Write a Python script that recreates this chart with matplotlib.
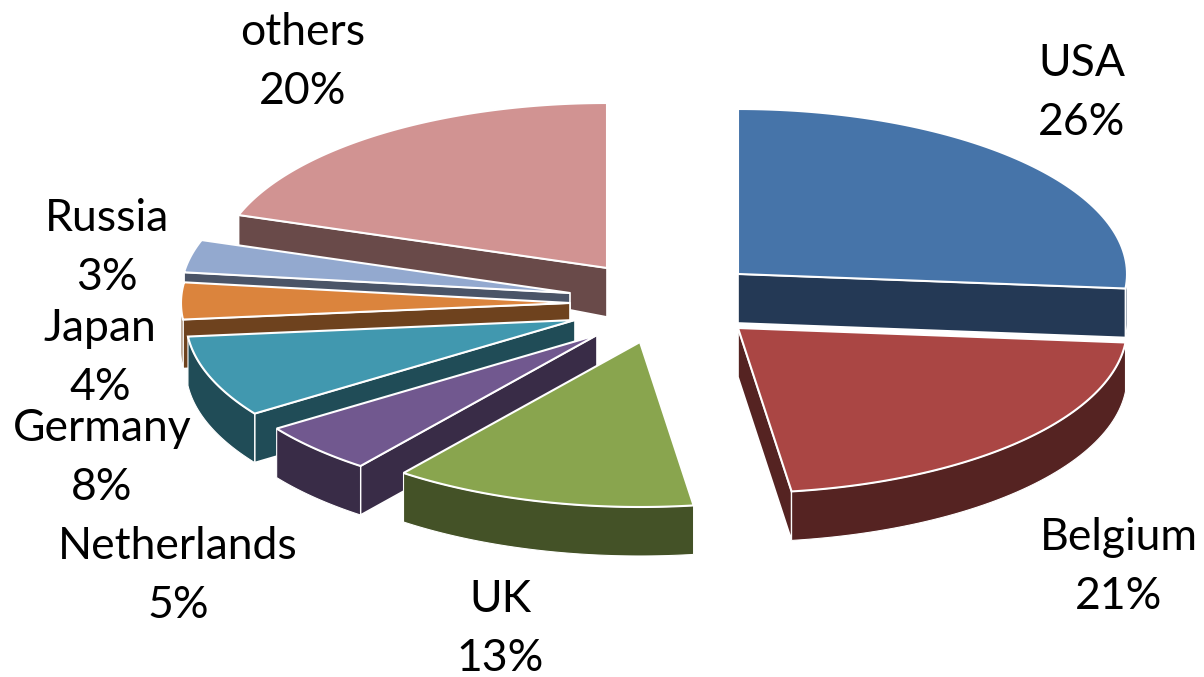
import numpy as np
import matplotlib
matplotlib.use("Agg")
import matplotlib.pyplot as plt
from matplotlib.patches import Polygon

plt.rcParams["font.family"] = ["Lato", "DejaVu Sans"]

# shares in percent, clockwise from 12 o'clock
categories = ["USA", "Belgium", "UK", "Netherlands", "Germany", "Japan", "Russia", "others"]
shares = [26.4, 21.4, 12.6, 5.0, 8.0, 3.6, 3.2, 19.8]

top_colors = ["#4674A9", "#AA4644", "#89A54E", "#71588F", "#4198AF", "#DB843D", "#93A9CF", "#D19392"]
side_colors = ["#243955", "#552322", "#445227", "#392C47", "#204C57", "#6E421E", "#4A5467", "#694A49"]

# where each exploded slice has its tip, in pixels
tips = [(738, 274), (738, 328), (640, 342), (597, 335), (575, 320), (570, 303), (570, 293), (607, 268)]
label_pos = [(1082, 93), (1119, 567), (500, 629), (178, 576), (102, 458), (100, 358), (107, 248), (303, 62)]
draw_order = [7, 6, 5, 4, 3, 2, 0, 1]

RX, RY = 389, 165


def rim(tip, angle):
    a = np.radians(angle)
    return tip[0] + RX * np.sin(a), tip[1] - RY * np.cos(a)


def depth(y):
    # far side of the pie looks thinner
    return np.clip(31 + (np.asarray(y) - 216) * 0.37, 31, 49)


def flat_wall(tip, angle, color):
    x, y = rim(tip, angle)
    wall = [tip, (x, y), (x, y + depth(y)), (tip[0], tip[1] + depth(tip[1]))]
    ax.add_patch(Polygon(wall, fc=color, ec="white", lw=1.2))


fig = plt.figure(figsize=(12.04, 6.77), dpi=100)
ax = fig.add_axes([0, 0, 1, 1])
ax.set_xlim(0, 1204)
ax.set_ylim(677, 0)
ax.axis("off")

ends = np.cumsum(shares) * 3.6
starts = ends - np.array(shares) * 3.6

for i in draw_order:
    tip = tips[i]
    start, end = starts[i], ends[i]
    side = side_colors[i]

    # flat walls, only if they face the viewer
    if np.cos(np.radians(start - 90)) < 0:
        flat_wall(tip, start, side)
    if np.cos(np.radians(end + 90)) < 0:
        flat_wall(tip, end, side)

    # curved outer wall, only the part at the front
    lo, hi = max(start, 90), min(end, 270)
    if lo < hi:
        x, y = rim(tip, np.linspace(lo, hi, 60))
        pts = np.r_[np.c_[x, y], np.c_[x, y + depth(y)][::-1]]
        ax.add_patch(Polygon(pts, fc=side, ec="white", lw=0.8))

    # top face
    x, y = rim(tip, np.linspace(start, end, 80))
    pts = np.r_[[tip], np.c_[x, y]]
    ax.add_patch(Polygon(pts, fc=top_colors[i], ec="white", lw=1.5, joinstyle="miter"))

for name, share, (lx, ly) in zip(categories, shares, label_pos):
    ax.text(lx, ly, f"{name}\n{share:.0f}%", ha="center", va="center",
            fontsize=32, color="black", linespacing=1.54)

fig.savefig("out.png", dpi=100)
